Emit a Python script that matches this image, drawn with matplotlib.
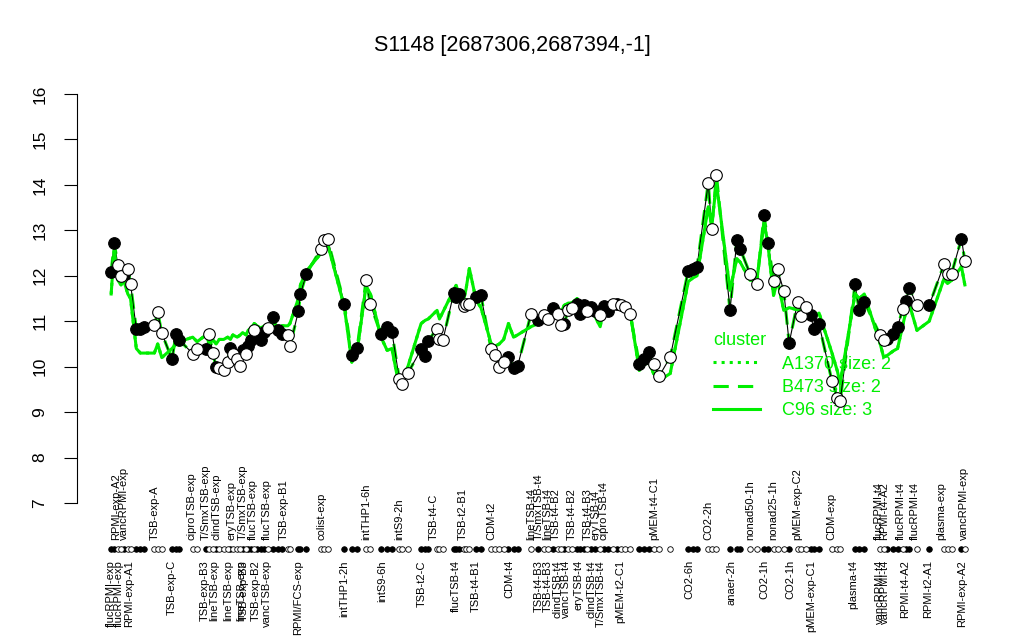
import numpy as np
import matplotlib.pyplot as plt
from matplotlib.lines import Line2D

plt.rcParams['font.family'] = ['Liberation Sans', 'DejaVu Sans']

# sample positions along the x axis, measured values and filled flag
pos = [0, 0.9, 2.0, 2.9, 3.7, 4.9, 5.7, 7.4, 8.6, 9.8,
       12.7, 13.7, 14.9, 17.9, 19.1, 20.1, 24.0, 25.3,
       27.9, 28.9, 29.9, 30.9, 31.8, 33.1, 34.3, 35.1, 35.8, 37.1,
       38.0, 38.7, 39.7, 40.3, 41.2, 42.1, 42.9, 44.1, 45.1, 46.2,
       47.6, 49.0, 50.3, 52.0, 52.6, 55.1, 55.7, 57.4, 61.8, 62.7,
       63.7, 68.6, 70.8, 72.4, 75.0, 76.3, 79.4, 81.2, 82.6, 84.8,
       85.6, 87.3, 91.2, 92.4, 93.3, 95.9, 96.6, 97.6, 100.8, 101.5,
       102.4, 103.7, 104.4, 105.4, 107.4, 108.8, 111.8, 112.9, 114.2, 115.5,
       116.9, 118.4, 119.6, 123.5, 125.7, 127.4, 128.6, 129.9, 131.4, 132.4,
       133.3, 134.5, 135.5, 137.1, 138.0, 139.2, 140.0, 141.2, 142.4, 143.9,
       144.9, 146.3, 147.6, 148.8, 150.0, 151.2, 152.7, 155.4, 156.9, 158.3,
       159.6, 161.3, 164.5, 169.8, 171.1, 172.4, 175.7, 176.7, 178.1, 182.1,
       184.1, 185.1, 188.0, 190.0, 192.1, 193.3, 194.9, 196.1, 197.9, 199.5,
       202.0, 203.1, 204.4, 205.9, 206.7, 208.3, 212.1, 213.7, 214.5, 218.9,
       220.1, 221.6, 226.3, 227.3, 228.4, 230.2, 231.4, 232.9, 233.8, 234.8,
       237.1, 240.7, 245.1, 246.1, 247.3, 250.2, 251.2]

values = [12.09, 12.72, 12.23, 12.0, 12.04, 12.16, 11.83, 10.82, 10.84, 10.88,
          10.91, 11.2, 10.74, 10.16, 10.73, 10.58, 10.29, 10.38,
          10.4, 10.71, 10.3, 9.99, 9.97, 9.92, 10.1, 10.42, 10.27, 10.18,
          10.01, 10.36, 10.27, 10.45, 10.58, 10.8, 10.65, 10.58, 10.76, 10.85,
          11.09, 10.8, 10.72, 10.69, 10.45, 11.22, 11.6, 12.04, 12.6, 12.78,
          12.8, 11.39, 10.25, 10.42, 11.9, 11.37, 10.71, 10.88, 10.77, 9.72,
          9.63, 9.86, 10.38, 10.24, 10.57, 10.84, 10.62, 10.58, 11.62, 11.54,
          11.6, 11.33, 11.39, 11.37, 11.54, 11.57, 10.38, 10.25, 9.99, 10.1,
          10.21, 9.98, 10.01, 11.15, 11.02, 11.13, 11.04, 11.3, 11.15, 10.91,
          10.95, 11.24, 11.3, 11.37, 11.17, 11.35, 11.23, 11.32, 11.23, 11.13,
          11.33, 11.23, 11.37, 11.37, 11.35, 11.31, 11.16, 10.07, 10.18, 10.32,
          10.05, 9.8, 10.21, 12.11, 12.16, 12.2, 14.05, 13.02, 14.22, 11.24,
          12.78, 12.59, 12.04, 11.83, 13.33, 12.73, 11.89, 12.14, 11.67, 10.52,
          11.43, 11.11, 11.32, 11.13, 10.82, 10.93, 9.68, 9.32, 9.24, 11.81,
          11.24, 11.43, 10.69, 10.58, 10.6, 10.73, 10.88, 11.26, 11.45, 11.74,
          11.35, 11.35, 12.26, 12.05, 12.05, 12.82, 12.32]

filled = [1, 1, 0, 0, 1, 0, 0, 1, 1, 1,
          0, 0, 0, 1, 1, 1, 0, 0,
          1, 0, 0, 1, 0, 0, 0, 1, 0, 0,
          0, 1, 0, 1, 1, 0, 1, 1, 1, 0,
          1, 1, 1, 0, 0, 1, 1, 1, 0, 0,
          0, 1, 1, 1, 0, 0, 1, 1, 1, 0,
          0, 0, 1, 1, 1, 0, 0, 0, 1, 1,
          1, 0, 0, 0, 1, 1, 0, 0, 0, 0,
          1, 1, 1, 0, 1, 0, 0, 1, 0, 0,
          1, 0, 0, 1, 1, 1, 0, 1, 1, 0,
          1, 1, 0, 1, 0, 0, 0, 1, 1, 1,
          0, 0, 0, 1, 1, 1, 0, 0, 0, 1,
          1, 1, 0, 0, 1, 1, 0, 0, 0, 1,
          0, 0, 0, 1, 1, 1, 0, 0, 0, 1,
          1, 1, 0, 0, 1, 1, 1, 0, 1, 1,
          0, 1, 0, 0, 0, 1, 0]

# cluster profiles
c96 = [11.6, 12.6, 11.9, 11.8, 11.9, 11.6, 11.5, 10.4, 10.3, 10.3,
       10.3, 10.5, 10.2, 10.4, 10.5, 10.55, 10.65, 10.55,
       10.7, 10.5, 10.6, 10.5, 10.6, 10.6, 10.65, 10.6, 10.7, 10.65,
       10.7, 10.75, 10.7, 10.8, 10.85, 10.95, 10.9, 10.85, 10.9, 10.9,
       10.95, 10.85, 10.9, 10.9, 10.95, 11.5, 11.8, 12.1, 12.5, 12.6,
       12.7, 11.32, 10.1, 10.35, 11.77, 11.6, 10.65, 10.36, 10.4, 9.55,
       9.7, 10.0, 10.95, 11.02, 11.05, 11.24, 11.05, 11.2, 11.68, 11.79,
       11.6, 11.46, 11.7, 12.16, 11.46, 11.3, 10.51, 10.45, 10.5, 10.6,
       10.95, 10.65, 10.7, 10.88, 10.95, 11.0, 11.1, 11.2, 11.3, 11.2,
       11.35, 11.4, 11.4, 11.5, 11.1, 11.3, 11.2, 11.2, 11.1, 10.88,
       11.3, 11.2, 11.4, 11.4, 11.4, 11.35, 11.2, 9.92, 10.05, 10.1,
       9.85, 9.7, 9.85, 11.87, 11.95, 12.0, 13.52, 13.1, 14.04, 11.68,
       12.38, 12.3, 11.9, 11.9, 13.19, 12.65, 11.57, 11.9, 11.24, 11.3,
       11.25, 11.2, 11.18, 11.2, 11.1, 11.18, 10.3, 9.9, 9.63, 11.61,
       11.5, 11.6, 10.5, 10.21, 10.25, 10.35, 10.4, 10.9, 11.2, 11.39,
       10.8, 11.0, 11.94, 11.83, 11.9, 12.2, 11.8]
b473 = values
a1370 = c96

# axis labels under the samples: (position, text, above the rug?)
label_pos = [1.5, 3.7, 12.7, 23.5, 27.9, 30.9, 35.3, 38.8, 41.8, 45.9, 50.9,
             61.8, 75.0, 84.7, 95.0, 103.5, 112.0, 123.5, 125.9, 128.2, 130.9,
             135.6, 140.3, 142.6, 145.0, 159.7, 175.6, 188.2, 194.7, 202.0,
             211.8, 225.9, 227.4, 232.4, 236.5, 244.4, 250.9,
             0.0, 2.4, 5.3, 17.9, 27.6, 30.3, 34.4, 38.2, 39.1, 42.6, 45.9,
             55.0, 68.5, 79.7, 91.5, 101.5, 107.4, 117.1, 125.9, 128.5, 131.2,
             133.8, 137.6, 141.2, 144.1, 149.7, 170.0, 182.6, 192.1, 200.0,
             205.9, 218.5, 226.2, 227.6, 233.5, 240.3, 250.3]
label_txt = ['RPMI-exp-A2', 'vancRPMI-exp', 'TSB-exp-A', 'ciproTSB-exp',
             'T/SmxTSB-exp', 'clindTSB-exp', 'eryTSB-exp', 'T/SmxTSB-exp',
             'flucTSB-exp', 'flucTSB-exp', 'TSB-exp-B1', 'colist-exp',
             'intTHP1-6h', 'intS9-2h', 'TSB-t4-C', 'TSB-t2-B1', 'CDM-t2',
             'lineTSB-t4', 'T/SmxTSB-t4', 'lineTSB-t4', 'TSB-t4-B2', 'TSB-t4-B2',
             'TSB-t4-B3', 'eryTSB-t4', 'ciproTSB-t4', 'pMEM-t4-C1', 'CO2-2h',
             'nonad50-1h', 'nonad25-1h', 'pMEM-exp-C2', 'CDM-exp',
             'flucRPMI-t4', 'RPMI-t4-A2', 'flucRPMI-t4', 'flucRPMI-t4',
             'plasma-exp', 'vancRPMI-exp',
             'flucRPMI-exp', 'flucRPMI-exp', 'RPMI-exp-A1', 'TSB-exp-C',
             'TSB-exp-B3', 'lineTSB-exp', 'lineTSB-exp', 'lineTSB-exp',
             'TSB-exp-B3', 'TSB-exp-B2', 'vancTSB-exp', 'RPMI/FCS-exp',
             'intTHP1-2h', 'intS9-6h', 'TSB-t2-C', 'flucTSB-t4', 'TSB-t4-B1',
             'CDM-t4', 'TSB-t4-B3', 'TSB-t4-B3', 'clindTSB-t4', 'vancTSB-t4',
             'eryTSB-t4', 'clindTSB-t4', 'T/SmxTSB-t4', 'pMEM-t2-C1', 'CO2-6h',
             'anaer-2h', 'CO2-1h', 'CO2-1h', 'pMEM-exp-C1', 'plasma-t4',
             'vancRPMI-t4', 'vancRPMI-t4', 'RPMI-t4-A2', 'RPMI-t2-A1',
             'RPMI-exp-A2']
label_up = [True] * 37 + [False] * 37

green = '#00EE00'

pos = np.array(pos)
values = np.array(values)
filled = np.array(filled, dtype=bool)

fig = plt.figure(figsize=(10.24, 6.4), dpi=100)
ax = fig.add_axes([0.0752, 0.1884, 0.9004, 0.6903])

ax.plot(pos, values, color='black', lw=0.8, zorder=2)
ax.plot(pos, a1370, color=green, lw=2.2, ls=':', zorder=3)
ax.plot(pos, b473, color=green, lw=2.2, ls=(0, (5, 3)), zorder=1)
ax.plot(pos, c96, color=green, lw=2.2, ls='-', zorder=3)
ax.scatter(pos[filled], values[filled], s=70, facecolor='black', edgecolor='black', lw=0.8, zorder=4)
ax.scatter(pos[~filled], values[~filled], s=70, facecolor='white', edgecolor='black', lw=0.8, zorder=4)

# rug of samples below the plot
tr = ax.get_xaxis_transform()
ax.scatter(pos[filled], np.full(filled.sum(), -0.067), s=16, facecolor='black', edgecolor='black',
           lw=0.6, transform=tr, clip_on=False)
ax.scatter(pos[~filled], np.full((~filled).sum(), -0.067), s=16, facecolor='white', edgecolor='black',
           lw=0.6, transform=tr, clip_on=False)
for x, t, up in zip(label_pos, label_txt, label_up):
    if up:
        ax.text(x, -0.046, t, rotation=90, ha='center', va='bottom', fontsize=8,
                transform=tr, clip_on=False)
    else:
        ax.text(x, -0.092, t, rotation=90, ha='center', va='top', fontsize=8,
                transform=tr, clip_on=False)

ax.set_xlim(-10.05, 261.25)
ax.set_ylim(6.64, 16.36)
ax.set_yticks(range(7, 17))
ax.tick_params(axis='y', length=9.5, width=0.8, pad=12, labelsize=12.5)
for lab in ax.get_yticklabels():
    lab.set_rotation(90)
    lab.set_va('center')
ax.set_xticks([])
for s in ['top', 'right', 'bottom']:
    ax.spines[s].set_visible(False)
ax.spines['left'].set_bounds(7, 16)
ax.spines['left'].set_linewidth(0.8)

handles = [Line2D([], [], color=green, lw=2.2, ls=':'),
           Line2D([], [], color=green, lw=2.2, ls=(0, (5, 3))),
           Line2D([], [], color=green, lw=2.2, ls='-')]
leg = ax.legend(handles, ['A1370 size: 2', 'B473 size: 2', 'C96 size: 3'], title='cluster',
                loc='upper left', bbox_to_anchor=(0.682, 0.44), frameon=False, fontsize=13,
                title_fontsize=13, handlelength=2.6, handletextpad=1.2, labelspacing=0.35,
                alignment='left', borderaxespad=0)
leg.set_zorder(3)
for t in leg.get_texts():
    t.set_color(green)
leg.get_title().set_color(green)

fig.suptitle('S1148 [2687306,2687394,-1]', y=0.945, fontsize=15.5)
fig.savefig('out.png', dpi=100)
